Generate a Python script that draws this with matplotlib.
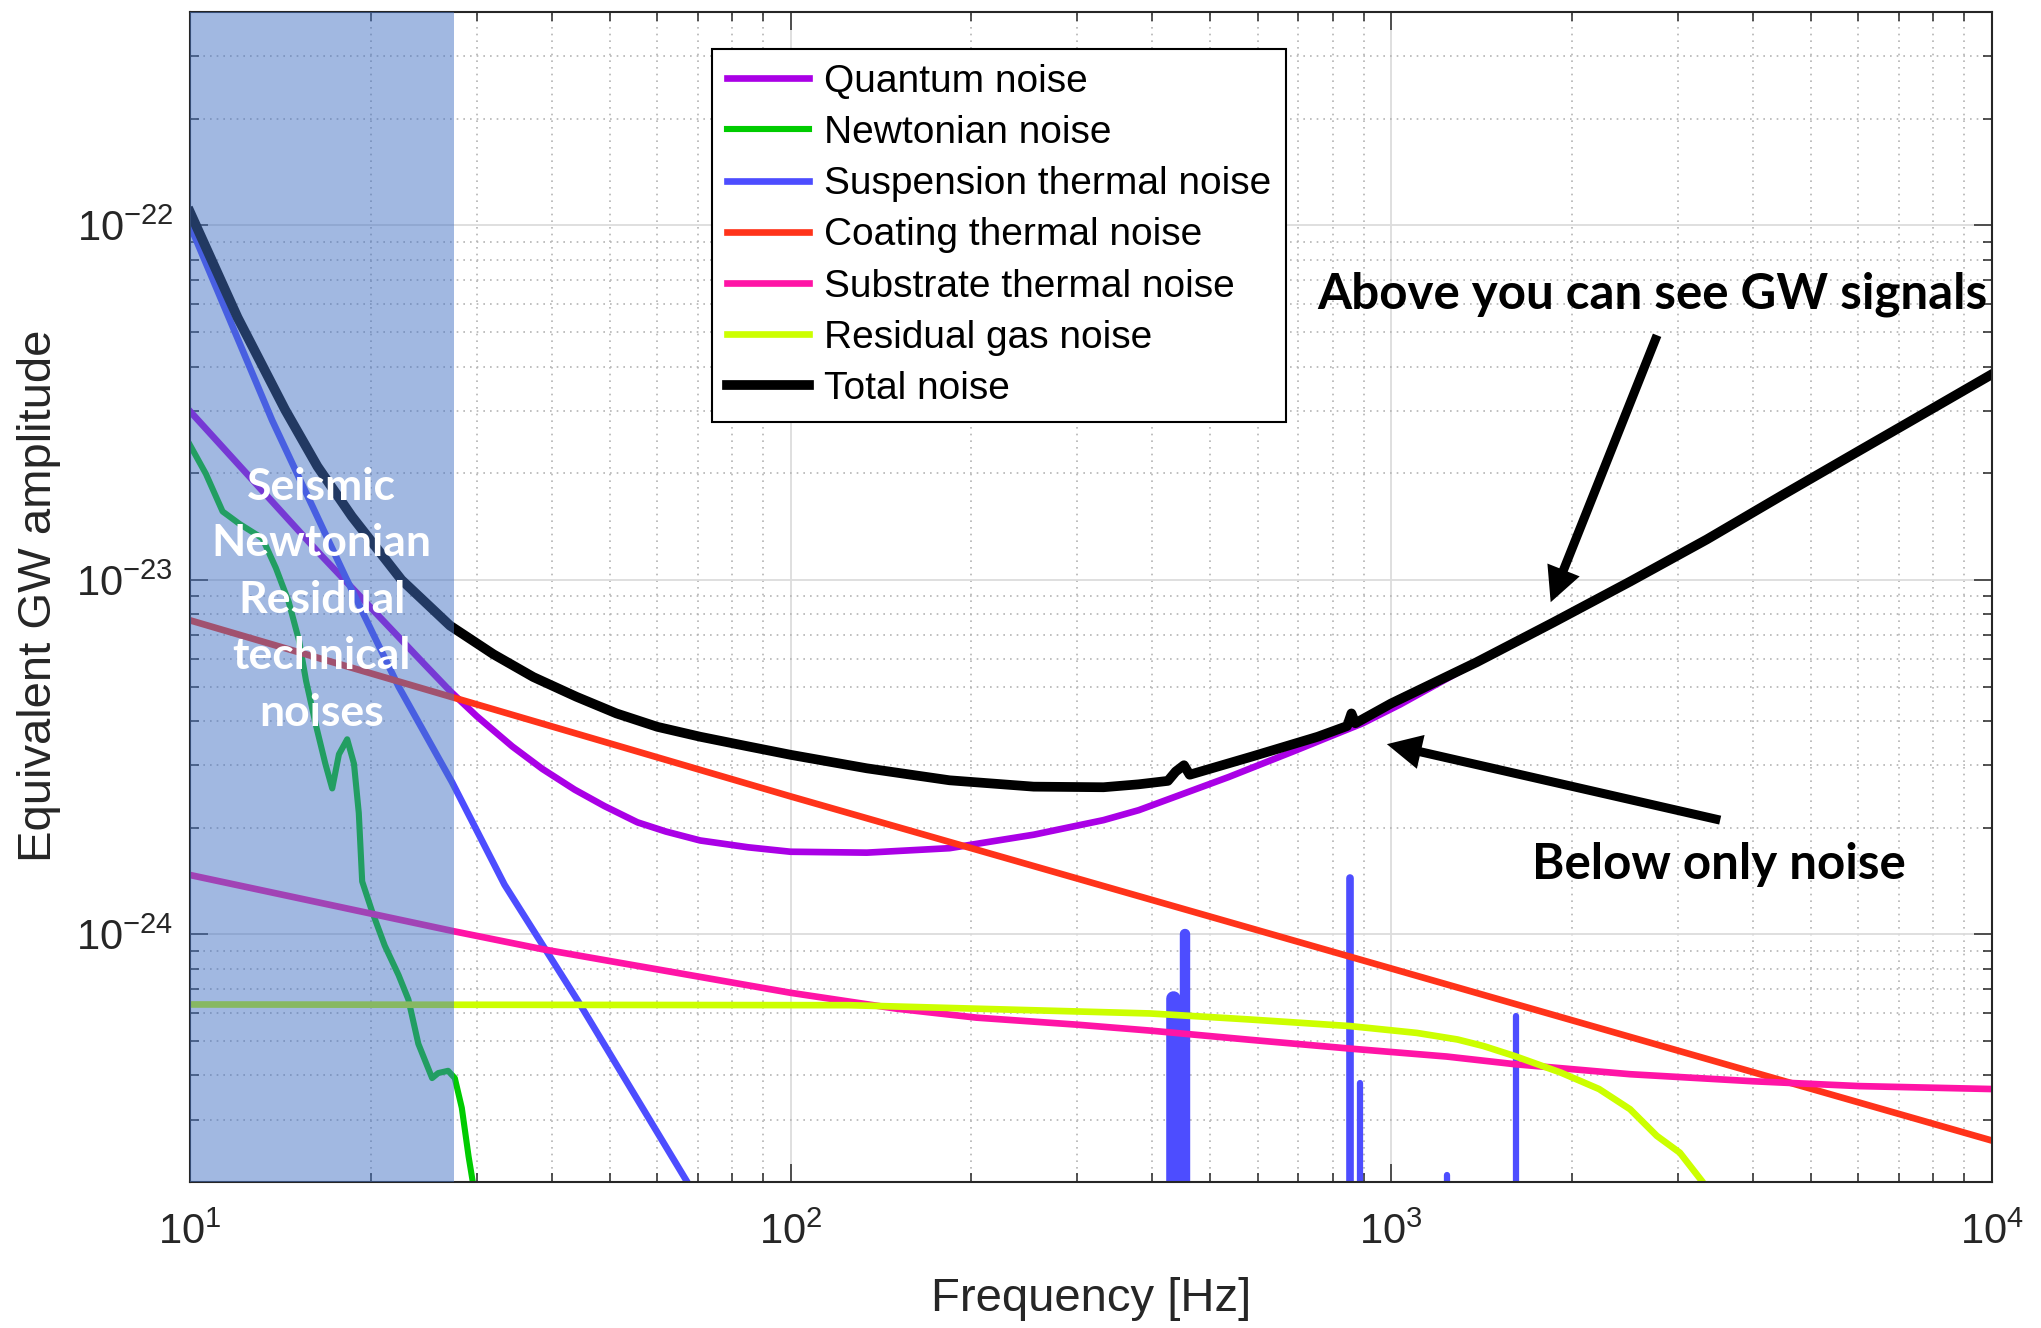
import matplotlib
matplotlib.use("Agg")
import matplotlib.pyplot as plt
from matplotlib.ticker import LogLocator, NullFormatter

# --- data (frequency in Hz, equivalent GW amplitude) ---
quantum_f = [10, 16.4, 24.5, 27.1, 30, 34.4, 38.6, 43.7, 49, 55.6, 62, 70.7, 85,
             100, 134, 184, 254, 332, 380, 537, 693, 897, 1035, 1389, 1864, 2500,
             3354, 4498, 6035, 8095, 10000]
quantum_h = [2.99e-23, 1.19e-23, 5.81e-24, 4.86e-24, 4.13e-24, 3.39e-24, 2.93e-24,
             2.56e-24, 2.30e-24, 2.07e-24, 1.95e-24, 1.84e-24, 1.76e-24, 1.71e-24,
             1.70e-24, 1.75e-24, 1.91e-24, 2.10e-24, 2.24e-24, 2.78e-24, 3.30e-24,
             3.94e-24, 4.45e-24, 5.86e-24, 7.59e-24, 9.89e-24, 1.30e-23, 1.74e-23,
             2.32e-23, 3.09e-23, 3.80e-23]

newton_f = [10, 10.63, 11.33, 12.08, 13.2, 13.9, 14.6, 15.2, 15.6, 16.2, 16.8, 17.25,
            17.7, 18.27, 18.75, 19.1, 19.35, 20.1, 21.1, 22.25, 23.1, 24.0, 25.3,
            25.9, 26.9, 27.6, 28.35, 29.1, 29.6, 30.5]
newton_h = [2.40e-23, 1.99e-23, 1.56e-23, 1.44e-23, 1.31e-23, 1.08e-23, 8.67e-24,
            6.71e-24, 5.20e-24, 3.90e-24, 3.03e-24, 2.58e-24, 3.22e-24, 3.55e-24,
            3.03e-24, 2.20e-24, 1.41e-24, 1.16e-24, 9.29e-25, 7.67e-25, 6.55e-25,
            4.91e-25, 3.93e-25, 4.06e-25, 4.12e-25, 3.93e-25, 3.24e-25, 2.36e-25,
            1.98e-25, 1.5e-25]

susp_f = [10, 13.7, 18.15, 22.25, 27.3, 33.4, 44.3, 67.3, 100]
susp_h = [1.0e-22, 2.82e-23, 1.02e-23, 5.0e-24, 2.69e-24, 1.38e-24, 6.47e-25,
          2.0e-25, 6.3e-26]
# violin mode peaks of the suspension noise
violin_f = [434, 453, 854, 888, 1238, 1613]
violin_h = [6.6e-25, 1.0e-24, 1.44e-24, 3.8e-25, 2.1e-25, 5.9e-25]

coating_f = [10, 100, 10000]
coating_h = [7.69e-24, 2.45e-24, 2.62e-25]

substrate_f = [10, 27.5, 38.6, 100, 150, 204, 300, 397, 582, 854, 1238, 1609,
               2500, 4000, 6035, 10000]
substrate_h = [1.47e-24, 1.02e-24, 9.08e-25, 6.84e-25, 6.17e-25, 5.82e-25,
               5.56e-25, 5.35e-25, 5.04e-25, 4.76e-25, 4.52e-25, 4.30e-25,
               4.03e-25, 3.85e-25, 3.73e-25, 3.66e-25]

gas_f = [10, 125, 397, 582, 854, 1104, 1290, 1425, 1609, 1919, 2220, 2500, 2770,
         3026, 3303, 3500]
gas_h = [6.34e-25, 6.31e-25, 5.98e-25, 5.75e-25, 5.51e-25, 5.27e-25, 5.05e-25,
         4.84e-25, 4.53e-25, 4.07e-25, 3.66e-25, 3.21e-25, 2.70e-25, 2.42e-25,
         2.00e-25, 1.6e-25]

total_f = [10, 12, 14.4, 16.3, 18.6, 22.5, 27.1, 32, 37.3, 44, 51.3, 60, 70.7, 85,
           100, 134, 184, 254, 332, 380, 425, 438, 452, 462, 585, 755, 845, 859,
           872, 1000, 1389, 1864, 2500, 3354, 4498, 6035, 8095, 10000]
total_h = [1.09e-22, 5.50e-23, 3.02e-23, 2.09e-23, 1.51e-23, 1.00e-23, 7.43e-24,
           6.17e-24, 5.32e-24, 4.68e-24, 4.20e-24, 3.85e-24, 3.61e-24, 3.39e-24,
           3.21e-24, 2.94e-24, 2.72e-24, 2.61e-24, 2.60e-24, 2.65e-24, 2.71e-24,
           2.88e-24, 3.00e-24, 2.82e-24, 3.17e-24, 3.61e-24, 3.87e-24, 4.20e-24,
           3.94e-24, 4.48e-24, 5.86e-24, 7.59e-24, 9.89e-24, 1.30e-23, 1.74e-23,
           2.32e-23, 3.09e-23, 3.80e-23]

seismic_band = [10, 27.5]

labels = ["Quantum noise", "Newtonian noise", "Suspension thermal noise",
          "Coating thermal noise", "Substrate thermal noise", "Residual gas noise",
          "Total noise"]

# --- style ---
plt.rcParams['font.family'] = ['Liberation Sans', 'DejaVu Sans']
plt.rcParams['axes.unicode_minus'] = False
ink = '#262626'

fig = plt.figure(figsize=(20.41, 13.28), dpi=100)
ax = fig.add_axes([0.0931, 0.1099, 0.8827, 0.8810])

lw = 4.8
ax.plot(quantum_f, quantum_h, color='#AA00E6', lw=lw, label=labels[0])
ax.plot(newton_f, newton_h, color='#00CC00', lw=4.4, label=labels[1])
ax.plot(susp_f, susp_h, color='#4D4DFF', lw=lw, label=labels[2])
ax.vlines(violin_f, 1e-26, violin_h, colors='#4D4DFF',
          linewidths=[10.5, 7.5, 5.5, 4.5, 4.5, 4.5], capstyle='round')
ax.plot(coating_f, coating_h, color='#FF331A', lw=lw, label=labels[3])
ax.plot(substrate_f, substrate_h, color='#FF14A6', lw=lw, label=labels[4])
ax.plot(gas_f, gas_h, color='#CCFF00', lw=lw, label=labels[5])
ax.plot(total_f, total_h, color='black', lw=7, label=labels[6])

ax.set_xscale('log')
ax.set_yscale('log')
ax.set_xlim(10, 1e4)
ax.set_ylim(2e-25, 4e-22)
ax.set_xticks([10, 100, 1000, 10000])
ax.set_yticks([1e-24, 1e-23, 1e-22])

# shaded low-frequency band drawn over the curves
ax.axvspan(seismic_band[0], seismic_band[1], color='#4472C4', alpha=0.5, lw=0,
           zorder=4)
ax.text(0.073, 0.4978, "Seismic\nNewtonian\nResidual\ntechnical\nnoises",
        transform=ax.transAxes, ha='center', va='center', color='white',
        fontsize=32, fontweight='bold', family=['Lato', 'DejaVu Sans'],
        linespacing=1.5, zorder=6)

# grid / ticks, MATLAB-like
ax.xaxis.set_minor_locator(LogLocator(base=10, subs=range(2, 10), numticks=20))
ax.yaxis.set_minor_locator(LogLocator(base=10, subs=range(2, 10), numticks=20))
ax.xaxis.set_minor_formatter(NullFormatter())
ax.yaxis.set_minor_formatter(NullFormatter())
ax.set_axisbelow(True)
ax.grid(True, which='major', color='#dcdcdc', lw=1.3, ls='-')
ax.grid(True, which='minor', color='#b4b4b4', lw=1.2, ls=(0, (1, 3)))
ax.tick_params(which='both', direction='in', top=True, right=True, color=ink,
               width=1.1)
ax.tick_params(which='major', length=12.7, labelsize=30, labelcolor=ink)
ax.tick_params(which='minor', length=6.5)
ax.tick_params(axis='x', which='major', pad=22)
ax.tick_params(axis='y', which='major', pad=12)
for sp in ax.spines.values():
    sp.set_color(ink)
    sp.set_linewidth(1.5)

ax.set_xlabel("Frequency [Hz]", fontsize=34, color=ink, va='center')
ax.xaxis.set_label_coords(0.5, -0.100)
ax.set_ylabel("Equivalent GW amplitude", fontsize=34, color=ink, va='center')
ax.yaxis.set_label_coords(-0.0838, 0.501)

leg = ax.legend(loc='upper left', bbox_to_anchor=(0.2898, 0.9684),
                borderaxespad=0, fontsize=28, handlelength=2.1,
                handletextpad=0.4, labelspacing=0.39, borderpad=0.38,
                fancybox=False, framealpha=1, edgecolor='black')
leg.get_frame().set_linewidth(1.5)
leg.set_zorder(8)

# annotations
ann_font = dict(fontsize=35.5, fontweight='bold', family=['Lato', 'DejaVu Sans'],
                color='black', zorder=7)
ax.text(0.8116, 0.759, "Above you can see GW signals", transform=ax.transAxes,
        ha='center', va='center', **ann_font)
ax.text(0.8487, 0.2715, "Below only noise", transform=ax.transAxes,
        ha='center', va='center', **ann_font)
arrow = dict(width=6.5, headwidth=25, headlength=25, shrink=0,
             facecolor='black', edgecolor='none')
ax.annotate('', xy=(1844, 8.65e-24), xytext=(2773, 4.90e-23),
            arrowprops=arrow, zorder=7)
ax.annotate('', xy=(984, 3.44e-24), xytext=(3532, 2.10e-24),
            arrowprops=arrow, zorder=7)

fig.savefig('out.png', dpi=100)
